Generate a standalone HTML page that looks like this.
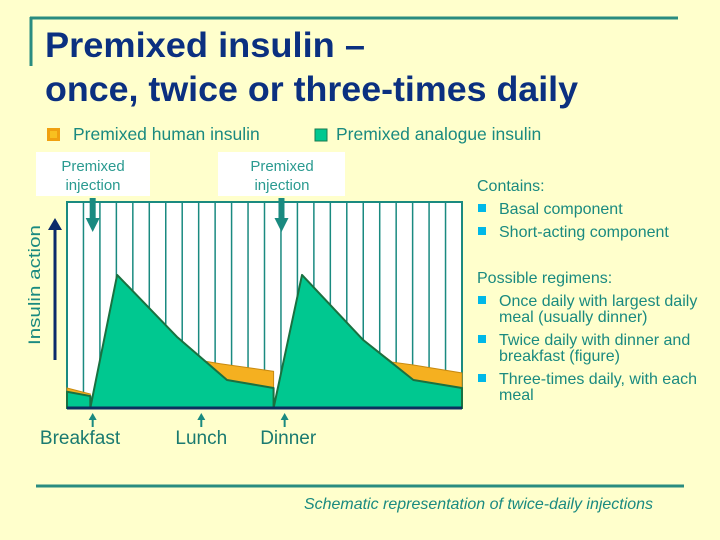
<!DOCTYPE html>
<html><head><meta charset="utf-8"><style>
body{margin:0;background:#FFFFCC;}
svg{display:block;font-family:"Liberation Sans",Arial,sans-serif;}
</style></head><body>
<svg id="s" width="720" height="540" viewBox="0 0 720 540">
<rect width="720" height="540" fill="#FFFFCC"/>
<line x1="30" y1="18" x2="678" y2="18" stroke="#2A8C80" stroke-width="3"/>
<line x1="31" y1="17" x2="31" y2="66" stroke="#2A8C80" stroke-width="3"/>
<text x="45" y="57" font-size="35" font-weight="bold" fill="#0B3080" textLength="320" lengthAdjust="spacingAndGlyphs">Premixed insulin –</text>
<text x="45" y="101" font-size="35" font-weight="bold" fill="#0B3080" textLength="533" lengthAdjust="spacingAndGlyphs">once, twice or three-times daily</text>
<rect x="47" y="128" width="13" height="13" fill="#F0A010"/>
<rect x="50" y="131" width="7" height="7" fill="#F8C020"/>
<text x="73" y="140" font-size="17.5" fill="#1A8A80">Premixed human insulin</text>
<rect x="315" y="129" width="12" height="12" fill="#00C890" stroke="#1A7A50" stroke-width="1"/>
<text x="336" y="140" font-size="17.5" fill="#1A8A80">Premixed analogue insulin</text>
<rect x="36" y="152" width="114" height="44" fill="#FFFFFF"/>
<rect x="218" y="152" width="127" height="44" fill="#FFFFFF"/>
<text x="93" y="171" font-size="15" fill="#2A9A90" text-anchor="middle">Premixed</text>
<text x="93" y="190" font-size="15" fill="#2A9A90" text-anchor="middle">injection</text>
<text x="282" y="171" font-size="15" fill="#2A9A90" text-anchor="middle">Premixed</text>
<text x="282" y="190" font-size="15" fill="#2A9A90" text-anchor="middle">injection</text>
<g id="chart"></g>
<g font-size="16" fill="#1A8A80">
<text x="477" y="191">Contains:</text>
<rect x="478" y="204" width="8" height="8" fill="#00B8E8"/>
<text x="499" y="214">Basal component</text>
<rect x="478" y="227" width="8" height="8" fill="#00B8E8"/>
<text x="499" y="237">Short-acting component</text>
<text x="477" y="283">Possible regimens:</text>
<rect x="478" y="296" width="8" height="8" fill="#00B8E8"/>
<text x="499" y="306">Once daily with largest daily</text>
<text x="499" y="322">meal (usually dinner)</text>
<rect x="478" y="335" width="8" height="8" fill="#00B8E8"/>
<text x="499" y="345">Twice daily with dinner and</text>
<text x="499" y="361">breakfast (figure)</text>
<rect x="478" y="374" width="8" height="8" fill="#00B8E8"/>
<text x="499" y="384">Three-times daily, with each</text>
<text x="499" y="400">meal</text>
</g>
<line x1="36" y1="486" x2="684" y2="486" stroke="#2A8C80" stroke-width="3"/>
<text x="304" y="509" font-size="16" font-style="italic" fill="#1A8A80" textLength="349" lengthAdjust="spacingAndGlyphs">Schematic representation of twice-daily injections</text>
</svg>
<script>
const greenX=[0,5.9,5.9,12.7,27.8,40.5,52.3,52.3,59.5,75,87.7,100];
const greenY=[7.9,5.8,0,64.6,34.6,13.6,9.7,0,64.6,33,13.6,9.7];
const orangeX=[0,5.9,5.9,12.7,27.8,35,38.8,52.3,52.3,59.5,75,82.3,87.7,100];
const orangeY=[9.7,6.8,0,64.6,34.6,22.7,21.5,17.8,0,64.6,33,22.3,20.9,17];
const mealX=[6.5,34,55.1];
const mealLabels=["Breakfast","Lunch","Dinner"];
const mealLabelX=[3.3,34,56];
const injectionX=[6.5,54.3];
const NS="http://www.w3.org/2000/svg";
const X0=67,X1=462,Y0=408,Y1=202;
function sx(v){return X0+(X1-X0)*v/100;}
function sy(v){return Y0-(Y0-Y1)*v/100;}
const g=document.getElementById('chart');
function mk(t,a){const e=document.createElementNS(NS,t);for(const k in a)e.setAttribute(k,a[k]);g.appendChild(e);return e;}
let e=mk('rect',{x:X0,y:Y1,width:X1-X0,height:Y0-Y1,fill:'#fff',stroke:'#1A8A80','stroke-width':2});


for(let i=1;i<24;i++){const x=sx(i*100/24);
e=mk('line',{x1:x,y1:Y1,x2:x,y2:Y0,stroke:'#1A8A80','stroke-width':1.5});

}
function poly(xs,ys){let p=xs.map((x,i)=>sx(x)+','+sy(ys[i]));p.push(sx(100)+','+sy(0));p.push(sx(0)+','+sy(0));return p.join(' ');}
e=mk('polygon',{points:poly(orangeX,orangeY),fill:'#F5B020',stroke:'#C88A10','stroke-width':1});


e=mk('polygon',{points:poly(greenX,greenY),fill:'#00C890',stroke:'#1A7040','stroke-width':2,'stroke-linejoin':'round'});


e=mk('line',{x1:X0,y1:Y0,x2:X1,y2:Y0,stroke:'#0B3060','stroke-width':3});


e=mk('line',{x1:55,y1:360,x2:55,y2:228,stroke:'#0B2A6A','stroke-width':3});


e=mk('polygon',{points:'48,230 62,230 55,218',fill:'#0B2A6A'});


e=mk('text',{x:0,y:0,transform:'translate(40,285) rotate(-90)','text-anchor':'middle','font-size':17,fill:'#1A8A80',textLength:120,lengthAdjust:'spacingAndGlyphs'});
e.textContent='Insulin action';


mealX.forEach((m,i)=>{const x=sx(m);
let a=mk('polygon',{points:`${x-4},420 ${x+4},420 ${x},413`,fill:'#1A8A80'});


a=mk('line',{x1:x,y1:419,x2:x,y2:427,stroke:'#1A8A80','stroke-width':2});


a=mk('text',{x:sx(mealLabelX[i]),y:444,'text-anchor':'middle','font-size':19,fill:'#1A7A70'});
a.textContent=mealLabels[i];

});
injectionX.forEach(m=>{const x=sx(m);
let a=mk('rect',{x:x-3,y:198,width:6,height:22,fill:'#1A8A80'});


a=mk('polygon',{points:`${x-7},218 ${x+7},218 ${x},232`,fill:'#1A8A80'});

});
</script>
</body></html>
